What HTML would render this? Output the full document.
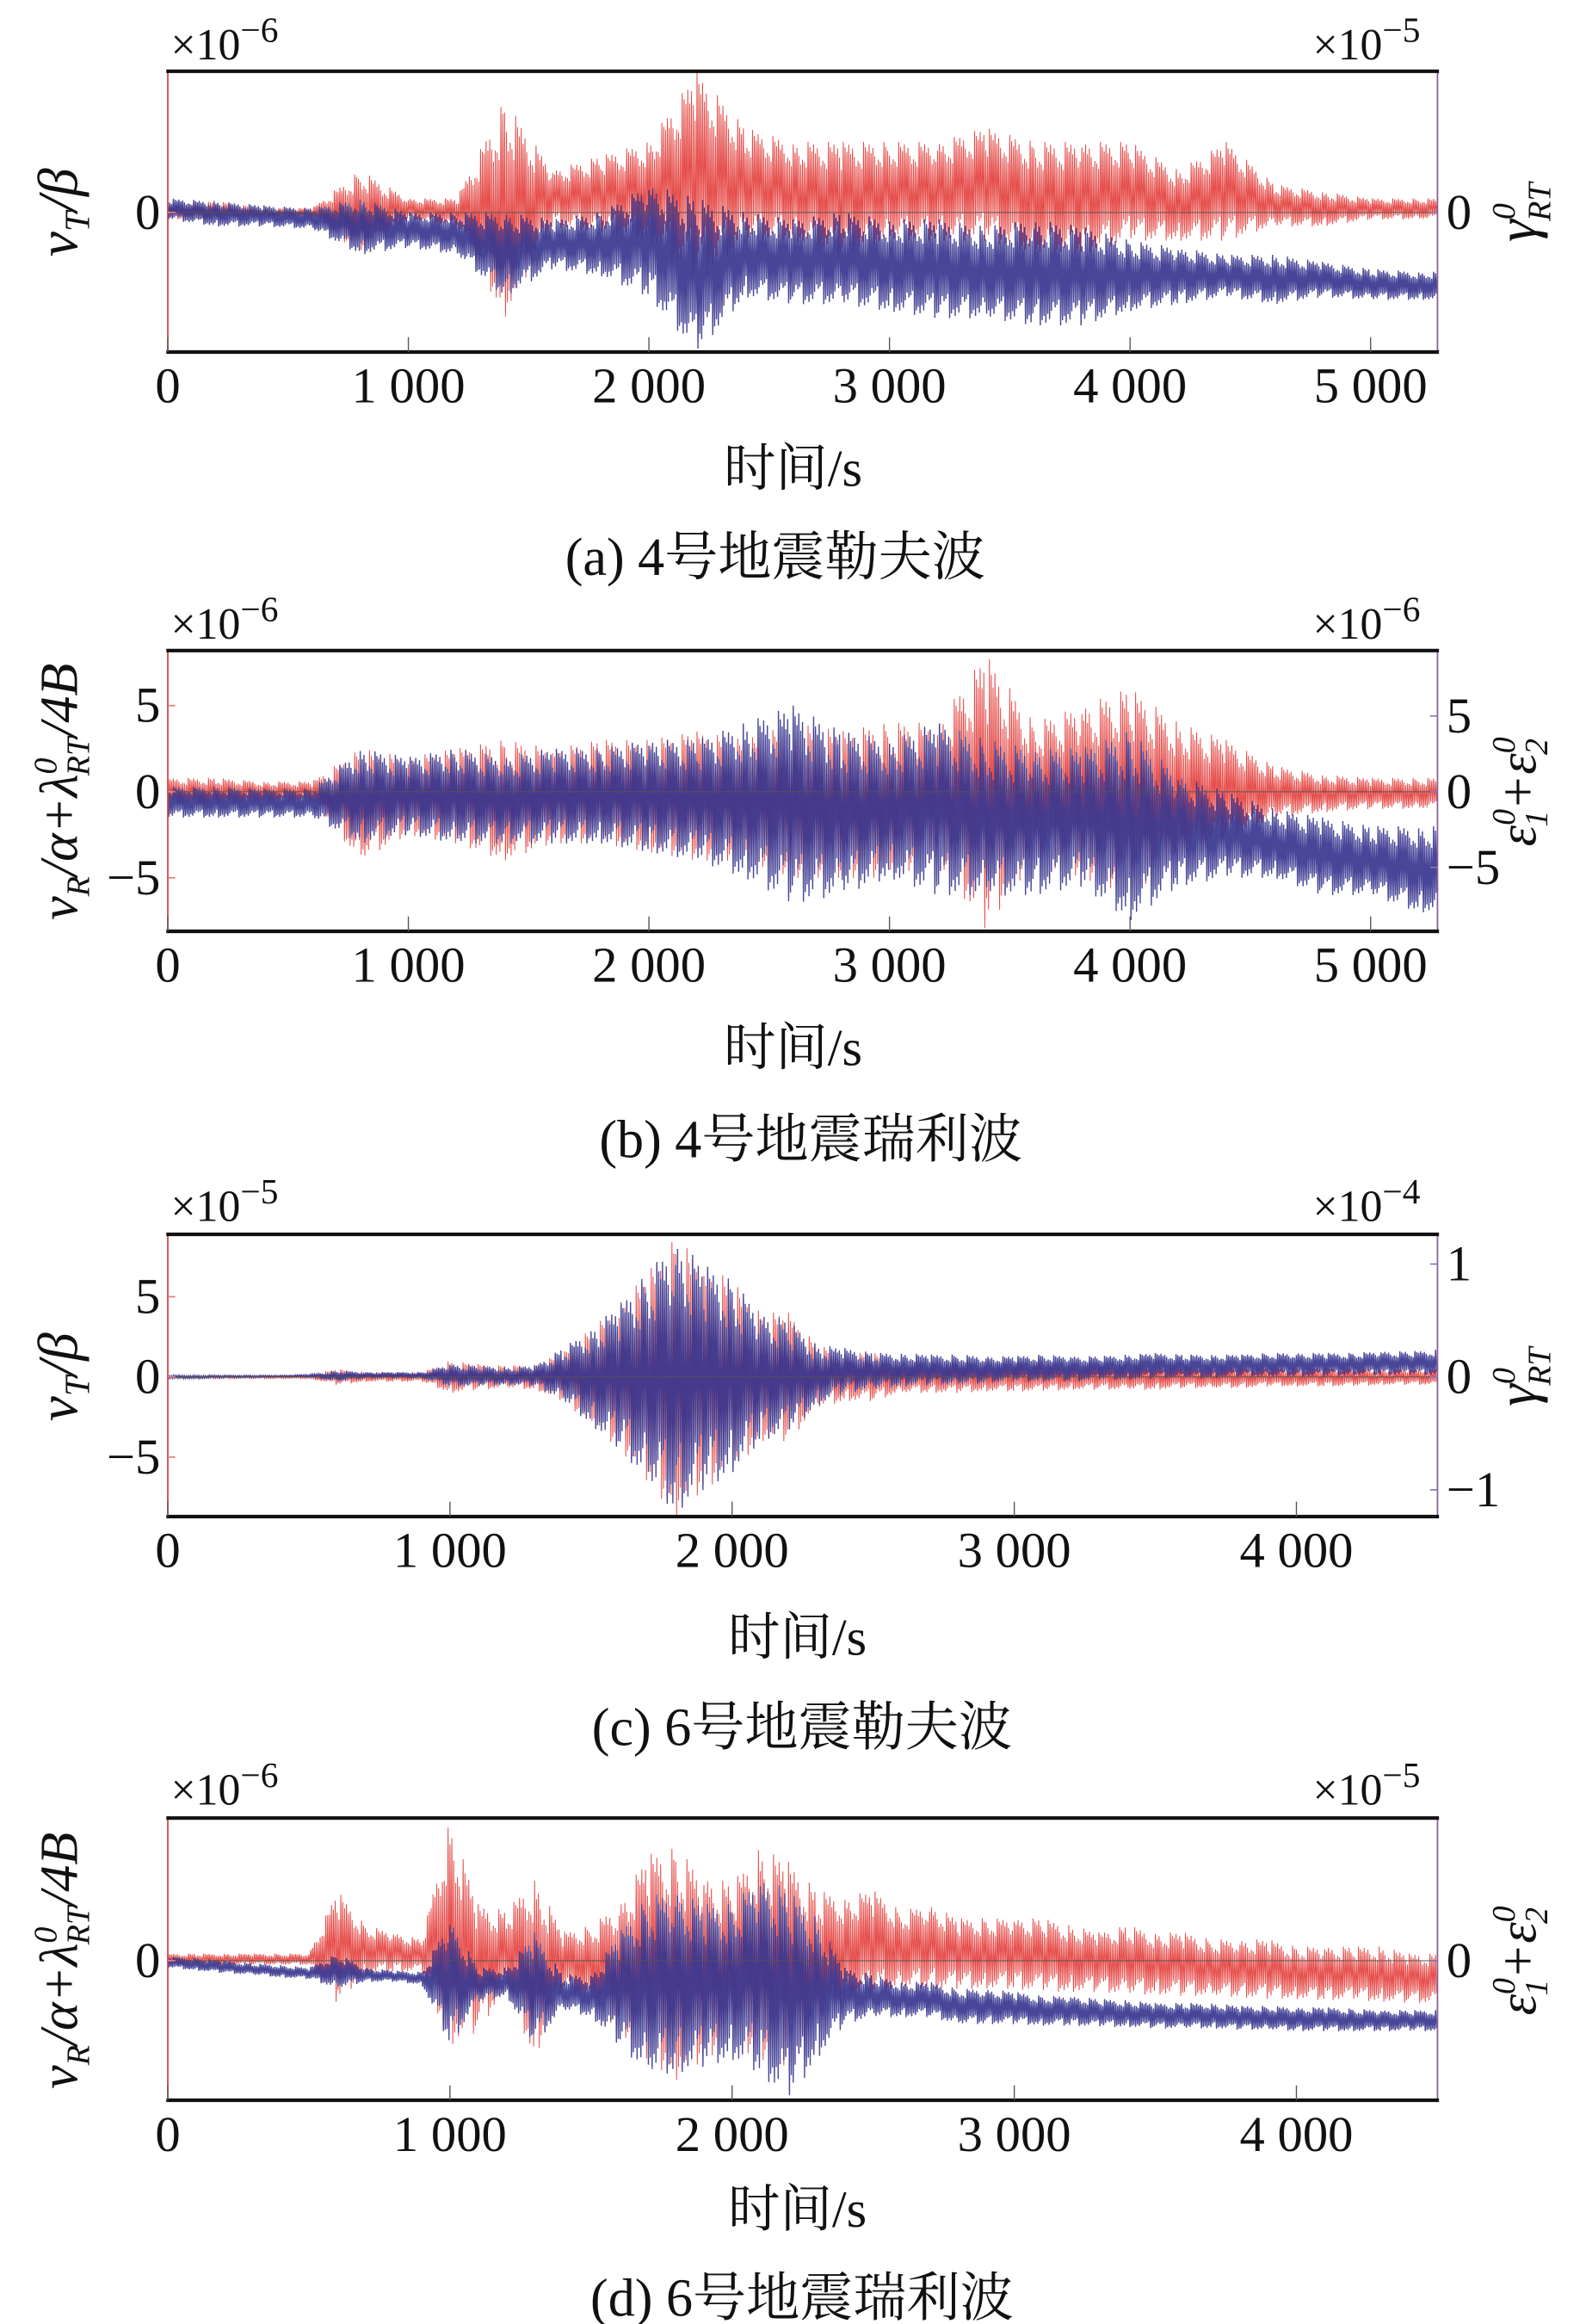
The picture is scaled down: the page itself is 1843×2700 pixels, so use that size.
<!DOCTYPE html>
<html><head><meta charset="utf-8">
<style>
html,body{margin:0;padding:0;background:#fff;}
svg{display:block;}
text{font-family:"Liberation Serif","Noto Serif CJK SC","Noto Sans CJK SC",serif;fill:#111;}
</style></head>
<body>
<svg id="fig" width="1843" height="2700" viewBox="0 0 1068 1564.6" xmlns="http://www.w3.org/2000/svg">
<defs>
<clipPath id="ca"><rect x="113" y="48" width="855" height="189"/></clipPath>
<clipPath id="cb"><rect x="113" y="438" width="855" height="189"/></clipPath>
<clipPath id="cc"><rect x="113" y="831" width="855" height="190"/></clipPath>
<clipPath id="cd"><rect x="113" y="1224" width="855" height="190"/></clipPath>
</defs>

<g>
<text x="115" y="40" font-size="30">×10<tspan dy="-12" font-size="24">−6</tspan></text>
<text x="884" y="40" font-size="30">×10<tspan dy="-12" font-size="24">−5</tspan></text>
<text transform="translate(52,143) rotate(-90)" text-anchor="middle" font-size="38" font-style="italic">v<tspan font-size="24" dy="8">T</tspan><tspan dy="-8">/β</tspan></text>
<text transform="translate(1034,143) rotate(-90)" text-anchor="middle" font-size="38" font-style="italic">γ<tspan font-size="22" dy="-14">0</tspan><tspan font-size="22" dx="-12" dy="24">RT</tspan></text>
<text x="534" y="327" text-anchor="middle" font-size="35">时间/s</text>
<text x="522" y="387" text-anchor="middle" font-size="36">(a) 4号地震勒夫波</text>
</g>
<g>
<text x="115" y="430" font-size="30">×10<tspan dy="-12" font-size="24">−6</tspan></text>
<text x="884" y="430" font-size="30">×10<tspan dy="-12" font-size="24">−6</tspan></text>
<text transform="translate(52,533) rotate(-90)" text-anchor="middle" font-size="36" font-style="italic">v<tspan font-size="22" dy="8">R</tspan><tspan dy="-8">/α+λ</tspan><tspan font-size="22" dy="-14">0</tspan><tspan font-size="22" dx="-12" dy="22">RT</tspan><tspan dy="-8">/4B</tspan></text>
<text transform="translate(1034,533) rotate(-90)" text-anchor="middle" font-size="36" font-style="italic">ε<tspan font-size="22" dy="-14">0</tspan><tspan font-size="22" dx="-12" dy="22">1</tspan><tspan dy="-8">+ε</tspan><tspan font-size="22" dy="-14">0</tspan><tspan font-size="22" dx="-12" dy="22">2</tspan></text>
<text x="534" y="717" text-anchor="middle" font-size="35">时间/s</text>
<text x="546" y="779" text-anchor="middle" font-size="36">(b) 4号地震瑞利波</text>
</g>
<g>
<text x="115" y="822" font-size="30">×10<tspan dy="-12" font-size="24">−5</tspan></text>
<text x="884" y="822" font-size="30">×10<tspan dy="-12" font-size="24">−4</tspan></text>
<text transform="translate(52,927) rotate(-90)" text-anchor="middle" font-size="38" font-style="italic">v<tspan font-size="24" dy="8">T</tspan><tspan dy="-8">/β</tspan></text>
<text transform="translate(1034,927) rotate(-90)" text-anchor="middle" font-size="38" font-style="italic">γ<tspan font-size="22" dy="-14">0</tspan><tspan font-size="22" dx="-12" dy="24">RT</tspan></text>
<text x="537" y="1114" text-anchor="middle" font-size="35">时间/s</text>
<text x="540" y="1175" text-anchor="middle" font-size="36">(c) 6号地震勒夫波</text>
</g>
<g>
<text x="115" y="1215" font-size="30">×10<tspan dy="-12" font-size="24">−6</tspan></text>
<text x="884" y="1215" font-size="30">×10<tspan dy="-12" font-size="24">−5</tspan></text>
<text transform="translate(52,1320) rotate(-90)" text-anchor="middle" font-size="36" font-style="italic">v<tspan font-size="22" dy="8">R</tspan><tspan dy="-8">/α+λ</tspan><tspan font-size="22" dy="-14">0</tspan><tspan font-size="22" dx="-12" dy="22">RT</tspan><tspan dy="-8">/4B</tspan></text>
<text transform="translate(1034,1320) rotate(-90)" text-anchor="middle" font-size="36" font-style="italic">ε<tspan font-size="22" dy="-14">0</tspan><tspan font-size="22" dx="-12" dy="22">1</tspan><tspan dy="-8">+ε</tspan><tspan font-size="22" dy="-14">0</tspan><tspan font-size="22" dx="-12" dy="22">2</tspan></text>
<text x="537" y="1499" text-anchor="middle" font-size="35">时间/s</text>
<text x="540" y="1559" text-anchor="middle" font-size="36">(d) 6号地震瑞利波</text>
</g>
</svg>
<script>
// ---- panel a data (left-axis units, range ±1) ----
const aTimes=[0,200,400,600,800,1000,1200,1400,1600,1800,2000,2200,2400,2600,2800,3000,3200,3400,3600,3800,4000,4200,4400,4600,4800,5000,5200,5300];
const aRedHi=[.05,.08,.03,.03,.3,.1,.1,.8,.3,.4,.5,1.0,.6,.5,.5,.5,.5,.6,.5,.5,.5,.3,.5,.2,.15,.1,.1,.1];
const aRedLo=[-.05,-.05,-.03,-.03,-.3,-.05,-.1,-.75,-.1,-.15,-.2,-.5,-.2,-.2,-.3,-.2,-.2,-.2,-.3,-.3,-.2,-.2,-.2,-.1,-.1,-.05,-.05,-.05];
const aBlueHi=[.1,.08,.05,.03,.1,0,0,0,-.05,0,.2,.1,0,-.05,0,-.05,-.05,-.1,-.05,-.1,-.2,-.25,-.3,-.3,-.35,-.4,-.42,-.42];
const aBlueLo=[-.05,-.1,-.1,-.12,-.3,-.25,-.3,-.6,-.4,-.45,-.6,-1,-.6,-.65,-.65,-.7,-.75,-.75,-.8,-.8,-.7,-.65,-.6,-.65,-.6,-.62,-.62,-.62];
const abTicks=[0,1000,2000,3000,4000,5000];
const abTickLabels=["0","1 000","2 000","3 000","4 000","5 000"];
// ---- panel b data (×10^-6) ----
const bTimes=aTimes;
const bRedHi=[.8,.8,.6,.6,2.5,2,2.5,3,2.5,3,3,3.5,3,4,3.5,4,4,8,4,5,6,4,3,1.5,1,.8,.8,.8];
const bRedLo=[-.8,-.8,-.6,-.6,-4,-2.5,-3,-4,-3,-3,-3.5,-4,-4,-5,-5,-5,-4,-8,-4,-5,-6,-4,-3,-1.5,-1.2,-1,-1,-1];
const bBlueHi=[.3,.3,.2,.2,2.5,2,2.5,2,2.5,2.5,3,3,4,5,3.5,3,4,3,2.5,2.5,3.5,1,0,-1,-1.5,-2,-2,-2];
const bBlueLo=[-1.5,-1.5,-1.5,-1.5,-3,-2.5,-3,-3,-3,-3,-3.5,-4,-5,-6.5,-6,-5,-6,-6,-6,-5.5,-7.5,-5.5,-5,-5,-6,-6,-7,-7];
const bLeftTicks=[-5,0,5];
const bRightTicks=[-5,0,5];
// ---- panel c data (×10^-5) ----
const cTimes=[0,100,200,300,400,500,600,700,800,900,1000,1100,1200,1300,1400,1500,1600,1700,1800,1900,2000,2100,2200,2300,2400,2500,2600,2700,2800,2900,3000,3100,3200,3300,3400,3500,3600,3700,3800,3900,4000,4100,4200,4300,4400,4500];
const cRedHi=[.1,.1,.1,.1,.1,.1,.5,.3,.3,.3,1,.8,.7,.8,1.5,3,4.5,6.5,8.7,7,6,4,4,2,1.5,1.5,1,1,1,.9,.9,.9,.8,.8,.8,.8,.7,.7,.7,.6,.6,.6,.6,.5,.5,.5];
const cRedLo=[-.1,-.1,-.1,-.1,-.1,-.1,-.5,-.3,-.3,-.3,-1,-.8,-.7,-.8,-1.5,-3,-4.5,-6.5,-8.7,-7,-6,-4,-4,-2,-1.5,-1.5,-1,-1,-1,-.9,-.9,-.9,-.8,-.8,-.8,-.8,-.7,-.7,-.7,-.6,-.6,-.6,-.6,-.5,-.5,-.5];
const cBlueHi=[.1,.1,.1,.1,.1,.15,.4,.3,.3,.3,.8,.7,.6,.7,1.8,3,4.5,6.5,8.5,7,6,4,3.5,2,1.8,1.5,1.5,1.4,1.4,1.3,1.3,1.4,1.3,1.3,1.4,1.5,1.4,1.4,1.4,1.5,1.5,1.5,1.5,1.6,1.6,1.7];
const cBlueLo=[-.1,-.1,-.05,-.05,0,0,-.3,-.1,-.1,-.1,-.6,-.6,-.5,-.6,-1.5,-3,-4.5,-6.5,-8.5,-7,-6,-4,-3.5,-1.8,-1,-.8,-.6,-.5,-.5,-.4,-.3,-.3,-.3,-.2,-.2,-.1,-.1,-.1,0,0,0,0,.1,.1,.1,.1];
const cdTicks=[0,1000,2000,3000,4000];
const cdTickLabels=["0","1 000","2 000","3 000","4 000"];
const cLeftTicks=[-5,0,5];
const cRightTicks=[-1,0,1];
// ---- panel d data (range ±1) ----
const dTimes=cTimes;
const dRedHi=[.05,.05,.05,.05,.05,.05,.5,.25,.2,.15,1.0,.4,.35,.6,.2,.25,.4,.75,.8,.6,.55,.8,.7,.5,.45,.5,.35,.4,.3,.3,.3,.3,.25,.2,.25,.2,.2,.15,.15,.15,.1,.1,.1,.1,.05,.05];
const dRedLo=[-.03,-.03,-.03,-.03,-.03,-.03,-.3,-.1,-.08,-.08,-.6,-.5,-.2,-.7,-.2,-.3,-.5,-.7,-.85,-.7,-.6,-.7,-.75,-.5,-.3,-.25,-.2,-.2,-.2,-.2,-.2,-.22,-.22,-.22,-.24,-.24,-.25,-.25,-.26,-.27,-.27,-.28,-.28,-.29,-.3,-.3];
const dBlueHi=[.03,.02,0,-.02,-.03,-.05,.05,-.05,-.07,-.08,.3,-.05,-.05,.2,-.1,-.1,.2,.45,.5,.4,.4,.6,.5,.3,-.05,-.1,-.15,-.15,-.2,-.2,-.22,-.25,-.25,-.27,-.28,-.3,-.3,-.3,-.32,-.32,-.33,-.33,-.34,-.35,-.35,-.35];
const dBlueLo=[-.05,-.07,-.09,-.1,-.12,-.13,-.2,-.15,-.15,-.17,-.6,-.3,-.25,-.6,-.35,-.4,-.6,-.8,-.8,-.75,-.7,-.8,-1.0,-.7,-.45,-.4,-.4,-.4,-.45,-.45,-.45,-.46,-.46,-.47,-.47,-.48,-.48,-.48,-.49,-.49,-.5,-.5,-.5,-.5,-.5,-.5];

const NS="http://www.w3.org/2000/svg";
const svg=document.getElementById('fig');
const PAT=[1,.72,.9,.55,.82,.65,.95,.6,.78,.5,.88];

function mk(tag,attrs,parent){const e=document.createElementNS(NS,tag);for(const k in attrs)e.setAttribute(k,attrs[k]);(parent||svg).appendChild(e);return e;}

function panel(cfg){
  const g=mk('g',{});
  
  
  const L=113,R=968;
  const xs=t=>L+t*(R-L)/cfg.xmax;
  const ys=v=>cfg.zero-v*cfg.ppu;
  const series=[[cfg.redHi,cfg.redLo,'#e23a36','red-series',0.9,0.6],[cfg.blueHi,cfg.blueLo,'#38368f','blue-series',0.92,0.8]];
  series.forEach(([hi,lo,col,nm,op,sw],si)=>{
    let pts=[];
    for(let i=0;i<cfg.times.length-1;i++){
      const t0=cfg.times[i],t1=cfg.times[i+1];
      const K=Math.max(8,Math.round((xs(t1)-xs(t0))*1.6));
      for(let k=0;k<K;k++){
        const f=k/K,t=t0+f*(t1-t0);
        const h=hi[i]+(hi[i+1]-hi[i])*f,l=lo[i]+(lo[i+1]-lo[i])*f;
        const c=(h+l)/2,a=(h-l)/2,m=PAT[(k+i*3+si*5)%PAT.length];
        const v=(k%2===0)?c+a*m:c-a*m;
        pts.push(xs(t).toFixed(2)+','+ys(v).toFixed(2));
      }
    }
    const p=mk('polyline',{points:pts.join(' '),fill:'none',stroke:col,'stroke-width':sw,opacity:op,'clip-path':'url(#'+cfg.clip+')'},g);
    
    
  });
  const zl=mk('line',{x1:L,x2:R,y1:cfg.zero,y2:cfg.zero,stroke:'#555','stroke-width':0.8,opacity:0.7},g);
  
  
  const ax=mk('g',{},g);
  
  
  mk('line',{x1:L,x2:L,y1:cfg.top,y2:cfg.bot,stroke:'#d04040','stroke-width':1},ax);
  mk('line',{x1:R,x2:R,y1:cfg.top,y2:cfg.bot,stroke:'#8a5a9a','stroke-width':1},ax);
  mk('line',{x1:L-1,x2:R+1,y1:cfg.top,y2:cfg.top,stroke:'#111','stroke-width':2.4},ax);
  mk('line',{x1:L-1,x2:R+1,y1:cfg.bot,y2:cfg.bot,stroke:'#111','stroke-width':2.4},ax);
  cfg.ticks.forEach((t,i)=>{
    mk('line',{x1:xs(t),x2:xs(t),y1:cfg.bot-10,y2:cfg.bot,stroke:'#555','stroke-width':0.8},ax);
    const tx=mk('text',{x:xs(t),y:cfg.bot+34,'text-anchor':'middle','font-size':34},g);
    tx.textContent=cfg.tickLabels[i];
    
    
  });
  cfg.leftTicks.forEach(v=>{
    const y=cfg.zero-v*cfg.ppu;
    mk('line',{x1:L,x2:L+5,y1:y,y2:y,stroke:'#e08080','stroke-width':1},ax);
    const tx=mk('text',{x:L-5,y:y+11,'text-anchor':'end','font-size':34},g);
    tx.textContent=v<0?'−'+(-v):String(v);
    
    
  });
  cfg.rightTicks.forEach(v=>{
    const y=cfg.zero-v*cfg.rppu;
    mk('line',{x1:R-5,x2:R,y1:y,y2:y,stroke:'#8a7ab0','stroke-width':1},ax);
    const tx=mk('text',{x:R+6,y:y+11,'font-size':34},g);
    tx.textContent=v<0?'−'+(-v):String(v);
    
    
  });
}

panel({name:'panel-a',clip:'ca',times:aTimes,redHi:aRedHi,redLo:aRedLo,blueHi:aBlueHi,blueLo:aBlueLo,xmax:5278,zero:143,ppu:95,top:48,bot:237,ticks:abTicks,tickLabels:abTickLabels,leftTicks:[0],rightTicks:[0],rppu:95});
panel({name:'panel-b',clip:'cb',times:bTimes,redHi:bRedHi,redLo:bRedLo,blueHi:bBlueHi,blueLo:bBlueLo,xmax:5278,zero:533,ppu:11.6,top:438,bot:627,ticks:abTicks,tickLabels:abTickLabels,leftTicks:bLeftTicks,rightTicks:bRightTicks,rppu:10.2});
panel({name:'panel-c',clip:'cc',times:cTimes,redHi:cRedHi,redLo:cRedLo,blueHi:cBlueHi,blueLo:cBlueLo,xmax:4500,zero:927,ppu:10.8,top:831,bot:1021,ticks:cdTicks,tickLabels:cdTickLabels,leftTicks:cLeftTicks,rightTicks:cRightTicks,rppu:76});
panel({name:'panel-d',clip:'cd',times:dTimes,redHi:dRedHi,redLo:dRedLo,blueHi:dBlueHi,blueLo:dBlueLo,xmax:4500,zero:1320,ppu:95,top:1224,bot:1414,ticks:cdTicks,tickLabels:cdTickLabels,leftTicks:[0],rightTicks:[0],rppu:95});
</script>
</body></html>
